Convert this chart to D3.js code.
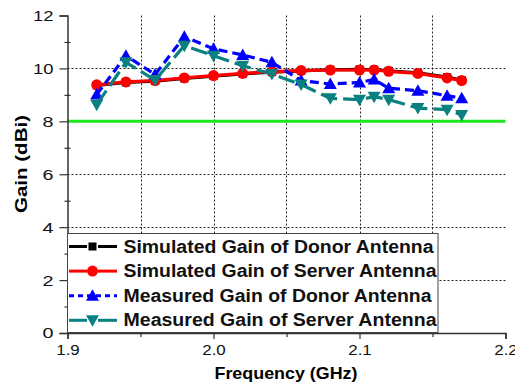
<!DOCTYPE html>
<html><head><meta charset="utf-8">
<script src="https://cdn.jsdelivr.net/npm/d3@7"></script>
<style>body{margin:0;background:#fff}svg{display:block}text{font-family:Arial,"Liberation Sans",sans-serif}</style>
</head><body><svg id="c" width="515" height="387"></svg>
<script>
const freq = [1.92,1.94,1.96,1.98,2.00,2.02,2.04,2.06,2.08,2.10,2.11,2.12,2.14,2.16,2.17];
const simDonor  = [9.36,9.47,9.52,9.62,9.71,9.79,9.86,9.91,9.95,9.96,9.95,9.91,9.83,9.67,9.56];
const simServer = [9.38,9.49,9.54,9.64,9.73,9.81,9.88,9.92,9.94,9.94,9.94,9.89,9.81,9.64,9.54];
const measDonor = [9.01,10.48,9.77,11.2,10.74,10.51,10.23,9.54,9.41,9.47,9.58,9.25,9.16,8.97,8.87];
const measServer= [8.63,10.23,9.56,10.86,10.48,10.10,9.79,9.39,8.87,8.82,8.93,8.82,8.50,8.44,8.24];
const seriesNames = ["Simulated Gain of Donor Antenna","Simulated Gain of Server Antenna","Measured Gain of Donor Antenna","Measured Gain of Server Antenna"];
const threshold = 8;
const xTicks = [1.9,2.0,2.1,2.2];
const xMinorTicks = [1.95,2.05,2.15];
const yTicks = [0,2,4,6,8,10,12];
const yMinorTicks = [1,3,5,7,9,11];

const svg = d3.select("#c");
const x = d3.scaleLinear().domain([1.9,2.2]).range([67.5,505.5]);
const y = d3.scaleLinear().domain([0,12]).range([333,15.5]);

function fit(sel, w){ sel.attr("textLength",w).attr("lengthAdjust","spacingAndGlyphs"); return sel; }

// gridlines
const grid = svg.append("g").attr("stroke","#222").attr("stroke-width",1).attr("stroke-dasharray","2,2");
xMinorTicks.concat([2.0,2.1]).forEach(v=>grid.append("line").attr("x1",Math.round(x(v))+0.5).attr("x2",Math.round(x(v))+0.5).attr("y1",y(12)).attr("y2",y(0)));
[2,4,6,10].forEach(v=>grid.append("line").attr("x1",x(1.9)).attr("x2",x(2.2)).attr("y1",Math.round(y(v))+0.5).attr("y2",Math.round(y(v))+0.5));

// threshold line
svg.append("line").attr("x1",x(1.9)).attr("x2",x(2.2)).attr("y1",y(threshold)).attr("y2",y(threshold))
  .attr("stroke","#1ee61e").attr("stroke-width",3);

// axes
const yAxis = d3.axisLeft(y).tickValues(yTicks).tickSize(8).tickPadding(6).tickFormat(d3.format("d"));
svg.append("g").attr("class","ya").attr("transform",`translate(${x(1.9)},0)`).call(yAxis);
const yMinor = d3.axisLeft(y).tickValues(yMinorTicks).tickSize(3).tickFormat("");
const gym = svg.append("g").attr("transform",`translate(${x(1.9)},0)`).call(yMinor);
gym.select(".domain").remove();
gym.selectAll(".tick line").attr("x2",-3).attr("x1",3);
const xAxis = d3.axisBottom(x).tickValues(xTicks).tickSize(6).tickPadding(5).tickFormat(d3.format(".1f"));
svg.append("g").attr("class","xa").attr("transform",`translate(0,${y(0)})`).call(xAxis);
const xMinor = d3.axisBottom(x).tickValues(xMinorTicks).tickSize(4).tickFormat("");
svg.append("g").attr("transform",`translate(0,${y(0)})`).call(xMinor).select(".domain").remove();
svg.selectAll(".domain").attr("stroke","#333").attr("stroke-width",1.5);
svg.selectAll(".tick line").attr("stroke","#333").attr("stroke-width",1.2);
svg.selectAll(".tick text").attr("font-size",15.5).attr("fill","#111").attr("font-family","Arial, 'Liberation Sans', sans-serif");
svg.selectAll(".ya .tick text").each(function(){ const t=d3.select(this); fit(t, t.text().length===2?20.5:11); });
svg.selectAll(".xa .tick text").each(function(){ fit(d3.select(this), 23.5); });

fit(svg.append("text").attr("x",286).attr("y",378.5).attr("text-anchor","middle").attr("font-size",17).attr("font-weight","bold").text("Frequency (GHz)"),143);
fit(svg.append("text").attr("transform","translate(26.5,164) rotate(-90)").attr("text-anchor","middle").attr("font-size",17).attr("font-weight","bold").text("Gain (dBi)"),98);

const series = [
  {vals:simDonor, color:"#000000", dash:null, marker:"square"},
  {vals:simServer, color:"#ff0000", dash:null, marker:"circle"},
  {vals:measDonor, color:"#0000ff", dash:"9,5", marker:"triangle"},
  {vals:measServer, color:"#0a8080", dash:"17,6", marker:"tridown"}
];
const line = d3.line().x((d,i)=>x(freq[i])).y(d=>y(d));
function marker(g, type, color, cx, cy){
  if(type==="square") g.append("rect").attr("x",cx-4).attr("y",cy-4).attr("width",8).attr("height",8).attr("fill",color);
  else if(type==="circle") g.append("circle").attr("cx",cx).attr("cy",cy).attr("r",5.5).attr("fill",color);
  else if(type==="triangle") g.append("path").attr("d",`M${cx},${cy-6.5}L${cx+6.5},${cy+5}L${cx-6.5},${cy+5}Z`).attr("fill",color);
  else g.append("path").attr("d",`M${cx},${cy+6.5}L${cx+6.5},${cy-5}L${cx-6.5},${cy-5}Z`).attr("fill",color);
}
series.forEach(s=>{
  const g = svg.append("g");
  g.append("path").attr("d",line(s.vals)).attr("fill","none").attr("stroke",s.color).attr("stroke-width",3.2)
    .attr("stroke-dasharray",s.dash);
  s.vals.forEach((v,i)=>marker(g,s.marker,s.color,x(freq[i]),y(v)));
});

// legend
const legendWidths = [310,313,308,313];
const lg = svg.append("g");
lg.append("rect").attr("x",67.5).attr("y",233.5).attr("width",370.5).attr("height",99).attr("fill","#fff").attr("stroke","#444").attr("stroke-width",1);
seriesNames.forEach((n,i)=>{
  const cy = 246.5 + i*24.6;
  const s = series[i];
  if(i===2){
    lg.append("line").attr("x1",69).attr("x2",117).attr("y1",cy).attr("y2",cy).attr("stroke",s.color).attr("stroke-width",3).attr("stroke-dasharray","5,4");
  } else {
    lg.append("line").attr("x1",69).attr("x2",87).attr("y1",cy).attr("y2",cy).attr("stroke",s.color).attr("stroke-width",3);
    lg.append("line").attr("x1",98).attr("x2",117).attr("y1",cy).attr("y2",cy).attr("stroke",s.color).attr("stroke-width",3);
  }
  marker(lg,s.marker,s.color,92.5,cy);
  fit(lg.append("text").attr("x",123.5).attr("y",cy+6).attr("font-size",18).attr("font-weight","bold").attr("fill","#111").text(n), legendWidths[i]);
});
</script></body></html>
